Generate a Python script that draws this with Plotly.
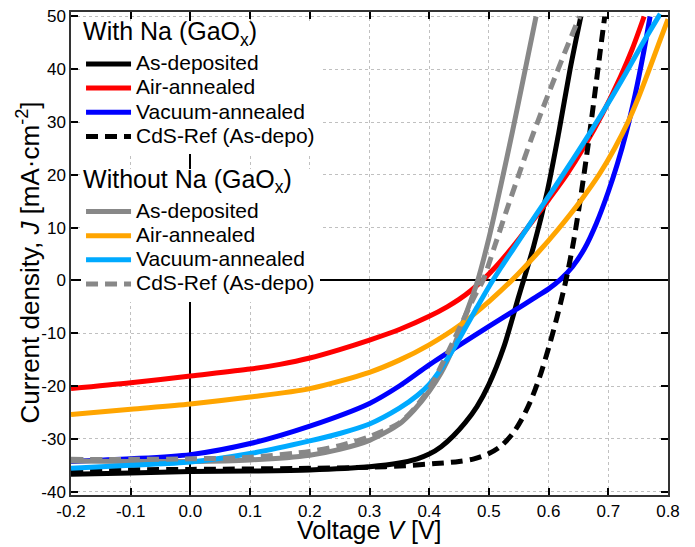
import plotly.graph_objects as go

# ---------------- data ----------------
# With Na (GaOx)
v_na_asdep = [-0.2, -0.1, 0.0, 0.1, 0.2, 0.3, 0.35, 0.38, 0.4, 0.42, 0.44, 0.46, 0.48, 0.5, 0.525, 0.55, 0.575, 0.598, 0.617, 0.636, 0.654]
j_na_asdep = [-36.7, -36.5, -36.2, -36.1, -35.9, -35.3, -34.6, -33.8, -32.9, -31.5, -29.5, -27.0, -23.9, -19.7, -12.6, -3.0, 6.5, 17.0, 28.0, 40.0, 50.0]

v_na_air = [-0.2, -0.1, 0.0, 0.1, 0.15, 0.2, 0.25, 0.3, 0.35, 0.4, 0.43, 0.45, 0.47, 0.49, 0.51, 0.53, 0.55, 0.57, 0.6, 0.63, 0.66, 0.69, 0.72, 0.74, 0.76]
j_na_air = [-20.5, -19.4, -18.1, -16.8, -15.9, -14.7, -13.1, -11.3, -9.3, -6.8, -5.0, -3.6, -1.9, 0.1, 2.4, 5.0, 7.8, 10.8, 15.3, 20.0, 25.4, 31.5, 38.5, 43.8, 50.0]

v_na_vac = [-0.2, -0.1, 0.0, 0.1, 0.2, 0.3, 0.35, 0.4, 0.45, 0.5, 0.55, 0.575, 0.6, 0.62, 0.64, 0.66, 0.68, 0.7, 0.715, 0.73, 0.745, 0.758, 0.77]
j_na_vac = [-34.3, -33.8, -33.0, -30.9, -27.6, -23.3, -20.0, -16.0, -12.3, -8.7, -5.2, -3.4, -1.6, 0.2, 2.6, 6.0, 10.8, 16.8, 22.0, 28.0, 35.2, 42.5, 50.0]

v_na_cds = [-0.2, 0.0, 0.2, 0.3, 0.36, 0.41, 0.45, 0.475, 0.5, 0.52, 0.54, 0.555, 0.57, 0.585, 0.6, 0.614, 0.629, 0.642, 0.654, 0.666, 0.677, 0.686, 0.694]
j_na_cds = [-35.9, -35.8, -35.6, -35.4, -35.1, -34.7, -34.3, -33.8, -32.8, -31.4, -29.0, -26.3, -22.8, -18.3, -12.8, -7.0, 0.0, 7.5, 16.0, 25.5, 35.0, 43.0, 50.0]

# Without Na (GaOx)
v_wo_asdep = [-0.2, -0.1, 0.0, 0.1, 0.2, 0.25, 0.3, 0.35, 0.375, 0.4, 0.42, 0.44, 0.46, 0.48, 0.5, 0.52, 0.54, 0.56, 0.579]
j_wo_asdep = [-34.2, -34.3, -34.3, -34.0, -33.1, -32.0, -30.3, -27.2, -24.5, -21.0, -17.5, -12.8, -6.8, -0.5, 8.0, 18.0, 28.5, 39.5, 50.0]

v_wo_air = [-0.2, -0.1, 0.0, 0.1, 0.2, 0.3, 0.35, 0.4, 0.45, 0.5, 0.54, 0.58, 0.616, 0.655, 0.686, 0.71, 0.733, 0.75, 0.767, 0.785, 0.8]
j_wo_air = [-25.4, -24.4, -23.4, -22.1, -20.5, -17.4, -15.1, -12.2, -8.6, -4.0, 0.2, 5.0, 9.7, 15.3, 20.3, 24.9, 30.0, 34.5, 39.5, 45.0, 49.5]

v_wo_vac = [-0.2, -0.1, 0.0, 0.1, 0.2, 0.25, 0.3, 0.35, 0.38, 0.4, 0.42, 0.44, 0.46, 0.48, 0.5, 0.52, 0.55, 0.58, 0.61, 0.64, 0.67, 0.7, 0.73, 0.76, 0.787]
j_wo_vac = [-35.6, -35.0, -34.4, -32.8, -30.4, -29.0, -27.2, -24.2, -21.8, -19.7, -16.7, -13.1, -9.1, -5.1, -1.2, 2.4, 7.5, 12.6, 17.6, 22.8, 28.1, 33.6, 39.4, 45.4, 50.5]

v_wo_cds = [-0.2, -0.1, 0.0, 0.1, 0.2, 0.25, 0.3, 0.35, 0.375, 0.4, 0.42, 0.44, 0.46, 0.475, 0.49, 0.51, 0.53, 0.55, 0.57, 0.59, 0.61, 0.63, 0.652]
j_wo_cds = [-33.9, -33.9, -33.8, -33.5, -32.4, -31.3, -29.6, -27.0, -24.3, -20.5, -16.2, -11.6, -6.8, -3.2, 0.0, 6.6, 13.4, 20.0, 26.5, 32.5, 38.3, 44.0, 50.0]

x_ticks = [-0.2, -0.1, 0.0, 0.1, 0.2, 0.3, 0.4, 0.5, 0.6, 0.7, 0.8]
y_ticks = [-40, -30, -20, -10, 0, 10, 20, 30, 40, 50]

legend1_title = "With Na (GaO<sub>x</sub>)"
legend2_title = "Without Na (GaO<sub>x</sub>)"
names = ["As-deposited", "Air-annealed", "Vacuum-annealed", "CdS-Ref (As-depo)"]
x_title = "Voltage <i>V</i> [V]"
y_title = "Current density, <i>J</i> [mA·cm<sup>-2</sup>]"

# ---------------- figure ----------------
FONT = "Liberation Sans, Arial, Helvetica, sans-serif"
LW = 5
DASH = "12px,7px"

def big(s, size=21):
    return '<span style="font-size:%dpx">%s</span>' % (size, s)

def legend_title(s):
    # thin empty lines around the title give the spacing seen in the reference
    return "<br><br>" + big(s, 25) + "<br>"

series = [
    (v_na_asdep, j_na_asdep, names[0], "#000000", "solid", "legend"),
    (v_na_air, j_na_air, names[1], "#ff0000", "solid", "legend"),
    (v_na_vac, j_na_vac, names[2], "#0000ff", "solid", "legend"),
    (v_na_cds, j_na_cds, names[3], "#000000", DASH, "legend"),
    (v_wo_asdep, j_wo_asdep, names[0], "#888888", "solid", "legend2"),
    (v_wo_air, j_wo_air, names[1], "#ffa500", "solid", "legend2"),
    (v_wo_vac, j_wo_vac, names[2], "#00aaff", "solid", "legend2"),
    (v_wo_cds, j_wo_cds, names[3], "#888888", DASH, "legend2"),
]

fig = go.Figure()
for v, j, name, color, dash, lg in series:
    fig.add_trace(go.Scatter(
        x=v, y=j, mode="lines", name=big(name), legend=lg,
        line=dict(color=color, width=LW, dash=dash, shape="spline", smoothing=0.8),
    ))

axis_common = dict(
    showline=True, linecolor="#333333", linewidth=1.5, mirror="ticks",
    ticks="inside", ticklen=7, tickwidth=1.5, tickcolor="#000000",
    showgrid=True, gridcolor="#c0c0c0", griddash="dot", gridwidth=1,
    zeroline=True, zerolinecolor="#000000", zerolinewidth=1.5,
    tickfont=dict(family=FONT, size=17, color="#000000"),
)

legend_common = dict(
    xanchor="left", yanchor="top", bgcolor="white", borderwidth=0,
    itemwidth=45,
    font=dict(family=FONT, size=16.3, color="#000000"),
)

fig.update_layout(
    width=695, height=547,
    margin=dict(l=71, r=27, t=7, b=52),
    paper_bgcolor="white", plot_bgcolor="white",
    font=dict(family=FONT, color="#000000"),
    xaxis=dict(
        range=[-0.2, 0.8], tickvals=x_ticks, ticktext=[f"{t:.1f}" for t in x_ticks],
        **axis_common,
    ),
    yaxis=dict(
        range=[-40.65, 50.85], tickvals=y_ticks, ticktext=[str(t) for t in y_ticks],
        **axis_common,
    ),
    legend=dict(
        x=0.0168, y=0.9807,
        title=dict(text=legend_title(legend1_title), font=dict(family=FONT, size=4.9)),
        **legend_common,
    ),
    legend2=dict(
        x=0.0168, y=0.6752,
        title=dict(text=legend_title(legend2_title), font=dict(family=FONT, size=4.9)),
        **legend_common,
    ),
    annotations=[
        dict(
            text=x_title, xref="paper", yref="paper", x=0.5, y=-0.072,
            xanchor="center", yanchor="middle", showarrow=False,
            font=dict(family=FONT, size=25, color="#000000"),
        ),
        dict(
            text=y_title, xref="paper", yref="paper", x=-0.072, y=0.4816,
            xanchor="center", yanchor="middle", showarrow=False, textangle=-90,
            font=dict(family=FONT, size=26, color="#000000"),
        ),
    ],
)

fig.write_html("out.html")
